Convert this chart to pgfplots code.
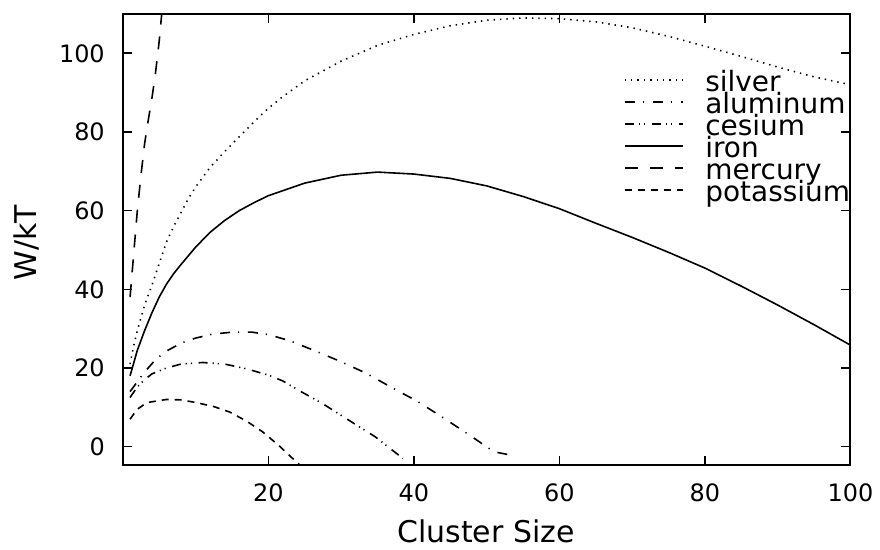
\documentclass[border=0pt]{standalone}
\usepackage{fontspec}
\setmainfont{DejaVu Sans}
\usepackage{pgfplots}
\pgfplotsset{compat=1.18}
\begin{document}
\begin{tikzpicture}
\begin{axis}[
  width=364.5pt, height=226pt, scale only axis,
  xmin=0, xmax=100, ymin=-4.7, ymax=110,
  xtick={20,40,60,80,100}, ytick={0,20,40,60,80,100},
  tick align=inside, major tick length=4.5pt,
  axis line style={line width=1pt},
  every tick/.style={line width=0.8pt, black},
  /pgf/number format/assume math mode=true,
  ticklabel style={font=\fontsize{12}{14}\selectfont},
  xticklabel style={yshift=-6pt},
  yticklabel style={xshift=-5.5pt},
  xlabel={Cluster Size}, ylabel={W/kT},
  label style={font=\fontsize{15}{18}\selectfont},
  xlabel style={at={(axis description cs:0.499,-0.146)}, anchor=center},
  ylabel style={at={(axis description cs:-0.132,0.493)}, anchor=center},
  legend style={at={(axis description cs:1,0.8635)}, anchor=north east,
    draw=none, fill=none, inner sep=0pt, row sep=0pt,
    font=\fontsize{14}{16}\selectfont,
    nodes={inner sep=0pt, text height=8pt, text depth=3pt}},
  legend cell align=left,
  legend image code/.code={\draw[#1] (0pt,3.5pt) -- (29pt,3.5pt); \path (40pt,0pt);},
  every axis plot/.append style={line width=0.8pt, black},
]
\addplot[dash pattern=on 0.7pt off 2.5pt] coordinates {
(1,21) (1.4,24.8) (2,29.5) (3,36) (4,41) (5,46.5) (6,52) (7,56) (8,59.5) (9,63)
(10,66) (12,71) (14,75) (16,78.8) (18,82.5) (20,86) (22,89) (25,93) (30,98)
(35,102) (40,104.8) (45,107) (50,108.4) (55,109) (60,108.8) (65,108) (70,106.5)
(75,104.3) (80,101.8) (85,99.2) (90,96.5) (95,94) (100,92)};
\addlegendentry{silver}
\addplot[dash pattern=on 5pt off 4pt on 0.6pt off 4.4pt] coordinates {
(1,14) (2,16.5) (3,19) (4.6,22.3) (6,24.3) (8,26.3) (10,27.6) (12.3,28.6) (15,29.1)
(17.8,29.1) (20,28.5) (23,26.9) (26.1,24.6) (30,21.6) (33.4,18.7) (37,15)
(40.5,11.5) (44,7.4) (47.6,3) (51,-1.3) (53.5,-2.2)};
\addlegendentry{aluminum}
\addplot[dash pattern=on 4.5pt off 2.5pt on 0.6pt off 2pt on 0.6pt off 3.3pt] coordinates {
(1,12.5) (2,15.2) (3,17) (4,18.5) (6,20) (8,21) (11,21.4) (14,21) (17,19.8)
(20,18.2) (22,16.7) (24.3,14.2) (27.5,10.9) (31,6.8) (34.7,2.5) (38.5,-3)};
\addlegendentry{cesium}
\addplot[solid] coordinates {
(1,18) (2,24.5) (3,29.5) (4,34) (5,38) (6,41.3) (7,44) (8,46.3) (10,50.7) (12,54.5)
(14,57.5) (16,60) (18,62) (20,63.8) (25,67) (30,69) (35,69.8) (40,69.3) (45,68.2)
(50,66.3) (55,63.6) (60,60.5) (65,56.8) (70,53.2) (75,49.4) (80,45.4) (85,40.8)
(90,36) (95,31) (100,25.8)};
\addlegendentry{iron}
\addplot[dash pattern=on 6.5pt off 6pt] coordinates {
(1,38) (1.5,49) (2,60) (2.5,69) (3,77) (3.5,83) (4,88.5) (4.5,95) (5,103) (5.5,113)};
\addlegendentry{mercury}
\addplot[dash pattern=on 3.5pt off 3pt] coordinates {
(1,7) (2,9.5) (3.3,11.2) (6,12) (8,11.9) (10.1,11.2) (12.5,10.2) (14.7,8.8) (17,6.5)
(19.2,3.8) (21.5,0.2) (23.8,-3.8) (24.5,-4.9)};
\addlegendentry{potassium}
\coordinate (SW) at (rel axis cs:0,0);
\end{axis}
\path (SW) ++(-61.5pt,-41.5pt) rectangle ++(440pt,274.5pt);
\end{tikzpicture}
\end{document}
